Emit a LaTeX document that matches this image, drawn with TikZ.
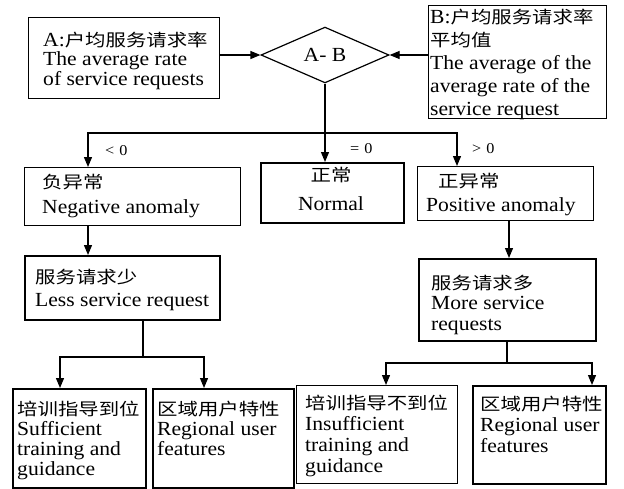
\documentclass[tikz,border=0pt]{standalone}
\usepackage{fontspec}
\setmainfont[FakeStretch=1.08]{Liberation Serif}
\newfontfamily\cjk[Scale=0.85,FakeStretch=1.2]{Noto Sans CJK SC}
\usetikzlibrary{shapes.geometric,arrows.meta,calc}
\begin{document}
\begin{tikzpicture}[x=1pt,y=-1pt,
  box/.style={draw, line width=1.4pt, inner sep=0, anchor=north west},
  tbox/.style={draw, line width=2.2pt, inner sep=0, anchor=north west},
  txt/.style={inner sep=0, anchor=base west, align=left, font=\fontsize{20}{#1}\selectfont},
  txt/.default=21,
  conn/.style={line width=1.2pt},
  arr/.style={conn, -{Triangle[length=10pt,width=8pt]}},
  lbl/.style={inner sep=0, anchor=base west, font=\fontsize{15}{17}\selectfont}]
\useasboundingbox[fill=white] (0,0) rectangle (624,488);

% boxes
\node[box, minimum width=191pt, minimum height=81pt] (A) at (28,17) {};
\node[box, minimum width=178pt, minimum height=113pt] (B) at (428,5) {};
\node[draw, diamond, line width=1.2pt, minimum width=128pt, minimum height=55pt, inner sep=0,
      font=\fontsize{20}{22}\selectfont] (D) at (325,55) {A- B};
\node[box, minimum width=216pt, minimum height=58pt] (Neg) at (24,167) {};
\node[tbox, minimum width=143pt, minimum height=60pt] (Nor) at (260,162) {};
\node[box, minimum width=176pt, minimum height=54pt] (Pos) at (417,166) {};
\node[tbox, minimum width=195pt, minimum height=64pt] (Less) at (24,255) {};
\node[tbox, minimum width=177pt, minimum height=82pt] (More) at (418,258) {};
\node[tbox, minimum width=133pt, minimum height=99pt] (B1) at (12,388) {};
\node[tbox, minimum width=141pt, minimum height=99pt] (B2) at (152,388) {};
\node[box, minimum width=161pt, minimum height=98pt] (B3) at (296,385) {};
\node[tbox, minimum width=133pt, minimum height=98pt] (B4) at (472,385) {};

% texts (anchored at the baseline of the last line)
\node[txt=19.5] (tA) at (43,85) {A:{\cjk 户均服务请求率}\\The average rate\\of service requests};
\node[txt=23] (tB) at (430,115) {B:{\cjk 户均服务请求率}\\{\cjk 平均值}\\The average of the\\average rate of the\\service request};
\node[txt=25] (tNeg) at (42,213) {{\cjk 负异常}\\Negative anomaly};
\node[txt=29, anchor=base, align=center] (tNor) at (331,210) {{\cjk 正常}\\Normal};
\node[txt=24] (tPos) at (426,211) {\hspace{12pt}{\cjk 正异常}\\Positive anomaly};
\node[txt=23] (tLess) at (35,306) {{\cjk 服务请求少}\\Less service request};
\node[txt=20.5] (tMore) at (431,330) {{\cjk 服务请求多}\\More service\\requests};
\node[txt=20] (tB1) at (17,475) {{\cjk 培训指导到位}\\Sufficient\\training and\\guidance};
\node[txt=20] (tB2) at (157,455) {{\cjk 区域用户特性}\\Regional user\\features};
\node[txt=20.7] (tB3) at (305,472) {{\cjk 培训指导不到位}\\Insufficient\\training and\\guidance};
\node[txt=20.7] (tB4) at (480,452) {{\cjk 区域用户特性}\\Regional user\\features};

% labels
\node[lbl] (l1) at (105,155) {<\hspace{5pt}0};
\node[lbl] (l2) at (350,153) {=\hspace{5pt}0};
\node[lbl] (l3) at (472,153) {>\hspace{5pt}0};

% connectors
\draw[arr] (A.east |- D.west) -- (D.west);
\draw[arr] (B.west |- D.east) -- (D.east);
\coordinate (bus) at (325,133);
\draw[conn] (D.south) -- (bus);
\draw[arr] (bus) -| ([xshift=64pt]Neg.north west);
\draw[arr] (bus) -- (bus |- Nor.north);
\draw[arr] (bus) -| ([xshift=40pt]Pos.north west);
\draw[arr] ([xshift=64pt]Neg.south west) -- ([xshift=64pt]Less.north west);
\draw[arr] ([xshift=92pt]Pos.south west) -- ([xshift=91pt]More.north west);
\coordinate (lb) at (143,357);
\draw[conn] ([xshift=119pt]Less.south west) -- (lb);
\draw[arr] (lb) -| ([xshift=48pt]B1.north west);
\draw[arr] (lb) -| ([xshift=52pt]B2.north west);
\coordinate (mb) at (507,363);
\draw[conn] ([xshift=89pt]More.south west) -- (mb);
\draw[arr] (mb) -| ([xshift=90pt]B3.north west);
\draw[arr] (mb) -| ([xshift=120pt]B4.north west);
\end{tikzpicture}
\end{document}
